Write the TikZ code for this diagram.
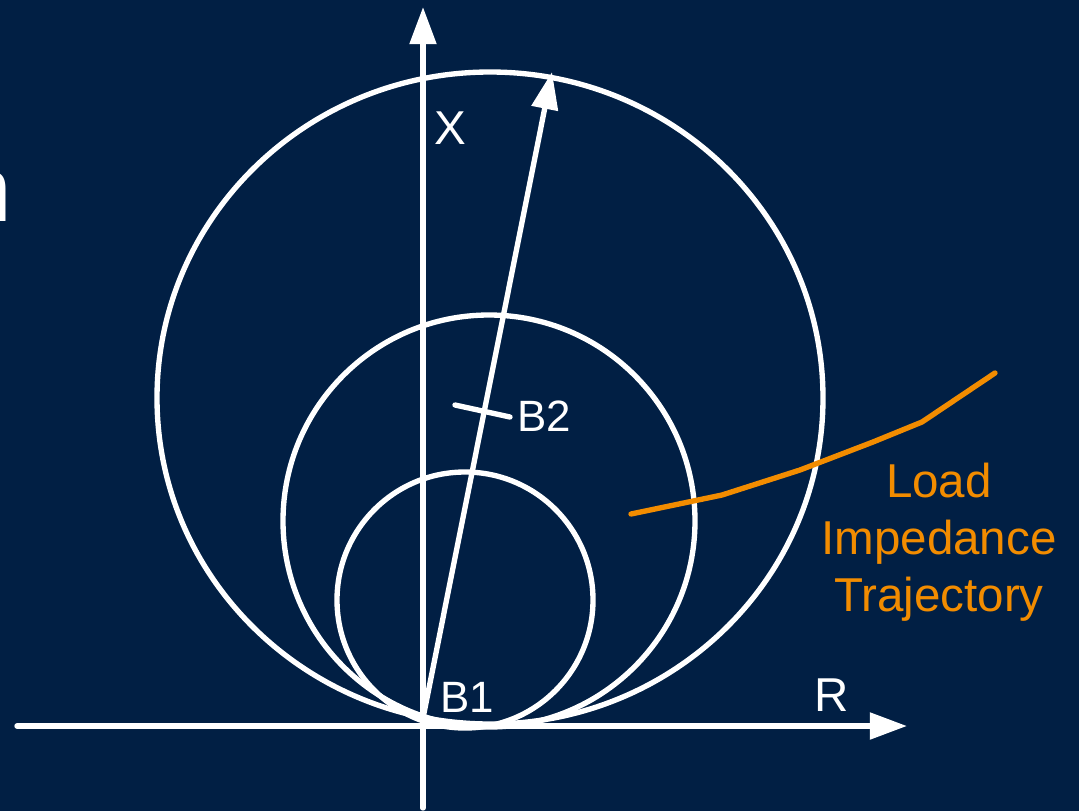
\documentclass[tikz,border=0pt]{standalone}
\usepackage{fontspec}
\setmainfont{Liberation Sans}
\usetikzlibrary{arrows.meta,positioning}
\definecolor{Navy}{HTML}{011F44}
\definecolor{Orange}{HTML}{F28C00}

\begin{document}
\begin{tikzpicture}[x=0.025cm,y=-0.025cm,
    axis/.style={draw=white,line width=3.8pt,line cap=round,-{Triangle[length=9.3mm,width=6.5mm]}},
    ring/.style={draw=white,line width=3.8pt,line cap=round},
    lbl/.style={text=white,inner sep=0pt,font=\fontsize{33.8}{40}\selectfont},
    blbl/.style={text=white,inner sep=0pt,font=\fontsize{31.2}{37}\selectfont},
    olbl/.style={text=Orange,inner sep=0pt,anchor=base,font=\fontsize{33.8}{40}\selectfont},
    trace/.style={draw=Orange,line width=3.8pt,line cap=round,line join=round}
]
\fill[Navy] (0,0) rectangle (1079,811);
\useasboundingbox (0,0) rectangle (1079,811);
\clip (0,0) rectangle (1079,811);

% cut-off title letter at the left edge
\node[text=white,inner sep=0pt,anchor=base east,font=\fontsize{65.8}{70}\selectfont] (title) at (12,221) {n};

% circles
\draw[ring] (490,398) ellipse [x radius=333, y radius=326];
\draw[ring] (489,521) ellipse [x radius=206, y radius=206];
\draw[ring] (465,600) ellipse [x radius=128, y radius=128];

% axes
\coordinate (O) at (423,718);
\coordinate (rl) at (17,726);
\coordinate (rr) at (907,726);
\coordinate (xb) at (423,808);
\coordinate (xt) at (423,7);
\coordinate (reach) at (552,72);
\draw[axis] (rl) -- (rr);
\draw[axis] (xb) -- (xt);
\draw[axis] (O) -- (reach);

% B2 mark
\coordinate (m1) at (455,405);
\coordinate (m2) at (510,417);
\draw[ring] (m1) -- (m2);

\node[lbl,anchor=base] (xlab) at (450,144) {X};
\node[lbl,anchor=base west] (rlab) at (814,711) {R};
\node[blbl,anchor=base west] (b1) at (440,712) {B1};
\node[blbl,anchor=base west] (b2) at (517,431) {B2};

% load impedance trajectory
\draw[trace] (631,514) -- (722,495) -- (800,470) -- (873,442) -- (922,422) -- (995,373);
\node[olbl] (load) at (939,497) {Load};
\node[olbl] (imp) at (939,554) {Impedance};
\node[olbl] (traj) at (939,611) {Trajectory};
\end{tikzpicture}
\end{document}
